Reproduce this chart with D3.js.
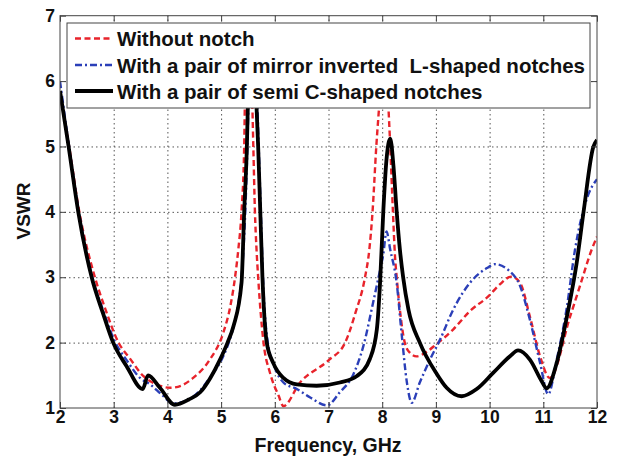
<!DOCTYPE html>
<html>
<head>
<meta charset="utf-8">
<script src="https://cdn.jsdelivr.net/npm/d3@7"></script>
<style>
  html, body { margin: 0; padding: 0; background: #fff; }
  svg { display: block; font-family: "Liberation Sans", Arial, Helvetica, sans-serif; font-weight: bold; }
</style>
</head>
<body>
<svg id="chart" width="619" height="460"></svg>
<script>
// ---- data ----
const xTicks = [2, 3, 4, 5, 6, 7, 8, 9, 10, 11, 12];
const yTicks = [1, 2, 3, 4, 5, 6, 7];

const seriesNames = [
  "Without notch",
  "With a pair of mirror inverted  L-shaped notches",
  "With a pair of semi C-shaped notches"
];

const freqRed = [2.0,2.17,2.36,2.65,2.85,3.09,3.3,3.55,3.8,4.05,4.25,4.48,4.79,5.04,5.17,5.26,5.32,5.38,5.43,5.45,5.51,5.57,5.60,5.63,5.66,5.69,5.79,5.91,6.07,6.16,6.47,7.0,7.31,7.50,7.68,7.76,7.82,7.89,7.95,8.03,8.11,8.15,8.20,8.24,8.27,8.33,8.42,8.52,8.64,8.83,9.0,9.32,9.63,9.98,10.19,10.41,10.57,10.75,10.94,11.12,11.5,11.68,11.9,12.0];
const vswrRed = [5.8,5.0,4.0,3.0,2.5,2.0,1.76,1.49,1.36,1.31,1.34,1.46,1.74,2.15,2.55,3.0,3.42,4.0,5.0,6.0,6.8,6.0,5.0,4.0,3.42,3.0,2.0,1.54,1.19,1.03,1.39,1.73,2.0,2.45,3.0,3.42,4.0,5.0,5.7,6.8,5.7,5.0,4.0,3.3,3.0,2.5,2.0,1.84,1.79,1.86,1.97,2.20,2.48,2.71,2.89,3.01,2.91,2.40,1.79,1.46,2.40,2.86,3.42,3.62];

const freqBlue = [2.0,2.16,2.35,2.6,2.8,3.02,3.25,3.49,3.68,3.9,4.11,4.4,4.62,4.82,5.04,5.2,5.3,5.4,5.45,5.49,5.52,5.59,5.66,5.70,5.74,5.78,5.87,6.0,6.16,6.41,6.66,6.97,7.21,7.46,7.65,7.83,7.96,8.02,8.08,8.15,8.27,8.36,8.46,8.55,8.70,8.89,9.08,9.32,9.63,9.95,10.10,10.35,10.57,10.75,10.94,11.09,11.25,11.44,11.59,11.81,12.0];
const vswrBlue = [6.0,5.05,4.0,3.0,2.5,2.02,1.72,1.46,1.36,1.2,1.07,1.13,1.28,1.5,1.79,2.15,2.5,3.2,4.0,5.0,6.0,6.8,6.0,5.0,4.0,3.0,2.0,1.62,1.39,1.29,1.16,1.04,1.24,1.51,1.95,2.61,3.11,3.35,3.70,3.42,2.91,2.15,1.39,1.08,1.39,1.74,2.05,2.50,2.91,3.14,3.20,3.11,2.86,2.35,1.69,1.21,1.74,2.55,3.42,4.2,4.5];

const freqBlack = [2.0,2.16,2.34,2.59,2.8,2.99,3.24,3.54,3.64,3.86,4.14,4.4,4.61,4.8,4.98,5.12,5.23,5.38,5.43,5.48,5.51,5.58,5.64,5.69,5.73,5.77,5.85,5.97,6.16,6.41,6.78,7.21,7.53,7.77,7.90,7.96,8.02,8.08,8.15,8.21,8.27,8.33,8.39,8.49,8.70,9.01,9.20,9.48,9.76,10.07,10.38,10.53,10.75,10.97,11.06,11.25,11.44,11.62,11.75,11.93,12.0];
const vswrBlack = [5.85,5.0,4.0,3.0,2.45,2.0,1.64,1.29,1.50,1.31,1.05,1.13,1.24,1.46,1.74,2.0,2.25,2.91,4.0,5.0,6.0,6.8,6.0,5.0,4.0,3.0,2.0,1.69,1.46,1.36,1.34,1.39,1.49,1.75,2.2,2.91,4.0,4.8,5.12,4.7,4.0,3.42,3.0,2.5,2.0,1.53,1.31,1.18,1.29,1.54,1.79,1.88,1.74,1.41,1.30,1.69,2.40,3.21,4.0,4.99,5.1];

// ---- layout ----
const svg = d3.select("#chart");
const L = 60, R = 597, T = 15.7, B = 408;
const x = d3.scaleLinear().domain([2, 12]).range([L, R]);
const y = d3.scaleLinear().domain([1, 7]).range([B, T]);

// grid
const gridX = svg.append("g").attr("transform", `translate(0,${B})`)
  .call(d3.axisBottom(x).tickValues(xTicks.slice(1, -1)).tickSize(-(B - T)).tickFormat(""));
gridX.select(".domain").remove();
gridX.selectAll("line").attr("stroke", "#555").attr("stroke-width", 1).attr("stroke-dasharray", "1.5,3");
const gridY = svg.append("g").attr("transform", `translate(${L},0)`)
  .call(d3.axisLeft(y).tickValues(yTicks.slice(1, -1)).tickSize(-(R - L)).tickFormat(""));
gridY.select(".domain").remove();
gridY.selectAll("line").attr("stroke", "#555").attr("stroke-width", 1).attr("stroke-dasharray", "1.5,3");

// clip
svg.append("defs").append("clipPath").attr("id", "clip")
  .append("rect").attr("x", L).attr("y", T).attr("width", R - L).attr("height", B - T);

const line = d3.line().x(d => x(d[0])).y(d => y(d[1])).curve(d3.curveMonotoneX);
const series = [
  { f: freqRed, v: vswrRed, color: "#e8232b", width: 2.4, dash: "6,3.5" },
  { f: freqBlue, v: vswrBlue, color: "#2b3fb8", width: 2.4, dash: "7,3,2,3" },
  { f: freqBlack, v: vswrBlack, color: "#000", width: 3.8, dash: null }
];
const plotG = svg.append("g").attr("clip-path", "url(#clip)");
series.forEach(s => {
  plotG.append("path")
    .datum(s.f.map((f, i) => [f, s.v[i]]))
    .attr("d", line)
    .attr("fill", "none")
    .attr("stroke", s.color)
    .attr("stroke-width", s.width)
    .attr("stroke-linejoin", "round")
    .attr("stroke-dasharray", s.dash);
});

// axes box with inward ticks
svg.append("rect").attr("x", L).attr("y", T).attr("width", R - L).attr("height", B - T)
  .attr("fill", "none").attr("stroke", "#444").attr("stroke-width", 1);
const tk = [
  svg.append("g").attr("transform", `translate(0,${B})`).call(d3.axisTop(x).tickValues(xTicks).tickSize(6).tickFormat("")),
  svg.append("g").attr("transform", `translate(0,${T})`).call(d3.axisBottom(x).tickValues(xTicks).tickSize(6).tickFormat("")),
  svg.append("g").attr("transform", `translate(${L},0)`).call(d3.axisRight(y).tickValues(yTicks).tickSize(6).tickFormat("")),
  svg.append("g").attr("transform", `translate(${R},0)`).call(d3.axisLeft(y).tickValues(yTicks).tickSize(6).tickFormat(""))
];
tk.forEach(g => { g.select(".domain").remove(); g.selectAll("line").attr("stroke", "#444"); });

// tick labels
const xa = svg.append("g").attr("transform", `translate(0,${B})`)
  .call(d3.axisBottom(x).tickValues(xTicks).tickSize(0).tickPadding(3).tickFormat(d3.format("d")));
xa.select(".domain").remove();
xa.selectAll("text").attr("font-size", 17.5).attr("font-weight", "bold").attr("fill", "#111")
  .attr("font-family", '"Liberation Sans", Arial, sans-serif');
const ya = svg.append("g").attr("transform", `translate(${L},0)`)
  .call(d3.axisLeft(y).tickValues(yTicks).tickSize(0).tickPadding(5).tickFormat(d3.format("d")));
ya.select(".domain").remove();
ya.selectAll("text").attr("font-size", 17.5).attr("font-weight", "bold").attr("fill", "#111")
  .attr("font-family", '"Liberation Sans", Arial, sans-serif');

// axis titles
svg.append("text").attr("x", 328).attr("y", 452).attr("text-anchor", "middle")
  .attr("font-size", 19.5).attr("fill", "#111").text("Frequency, GHz");
svg.append("text").attr("transform", "translate(30,211) rotate(-90)").attr("text-anchor", "middle")
  .attr("font-size", 19).attr("fill", "#111").text("VSWR");

// legend
const lg = svg.append("g");
lg.append("rect").attr("x", 67).attr("y", 23).attr("width", 523).attr("height", 85)
  .attr("fill", "#fff").attr("stroke", "#444").attr("stroke-width", 1);
const rowsY = [38.5, 65, 91];
series.forEach((s, i) => {
  lg.append("line").attr("x1", 75).attr("x2", 113).attr("y1", rowsY[i]).attr("y2", rowsY[i])
    .attr("stroke", s.color).attr("stroke-width", s.width).attr("stroke-dasharray", s.dash);
  lg.append("text").attr("x", 117).attr("y", rowsY[i] + 7.5)
    .attr("font-size", 20.5).attr("fill", "#111").style("white-space", "pre")
    .text(seriesNames[i]);
});
</script>
</body>
</html>
